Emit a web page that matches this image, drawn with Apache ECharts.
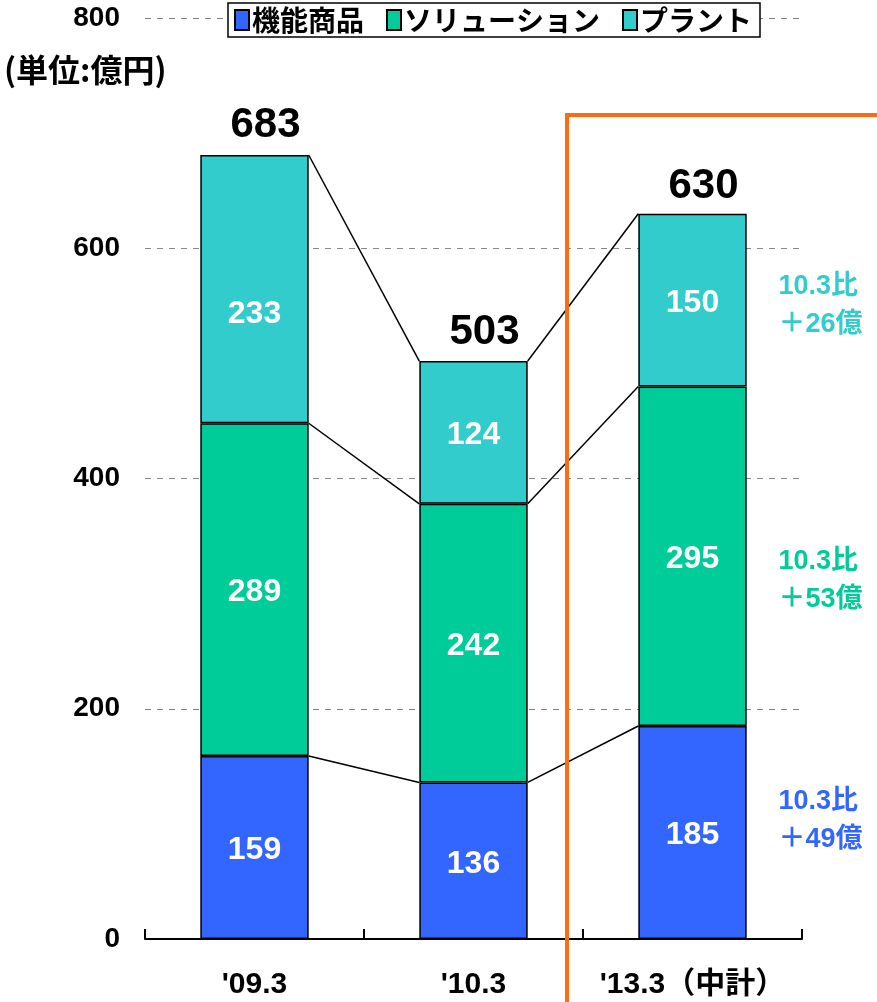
<!DOCTYPE html>
<html>
<head>
<meta charset="utf-8">
<script src="https://cdn.jsdelivr.net/npm/echarts@6/dist/echarts.min.js"></script>
<style>
  html, body { margin: 0; padding: 0; background: #fff; }
  #chart { width: 877px; height: 1002px; }
</style>
</head>
<body>
<div id="chart"></div>
<script>
// 年度
var categories = ["'09.3", "'10.3", "'13.3（中計）"];
// 事業別（億円）
var kinou = [159, 136, 185];
var solution = [289, 242, 295];
var plant = [233, 124, 150];
var totals = [683, 503, 630];
var yTicks = [0, 200, 400, 600, 800];
// 右側の注記 [カテゴリ, 高さ, 文字]
var notes = [
  [2, 550, '10.3比\n＋26億'],
  [2, 311, '10.3比\n＋53億'],
  [2, 103, '10.3比\n＋49億']
];

var colors = ['#3366FF', '#00CC99', '#33CCCC'];
var numFont = '"Liberation Sans", "Noto Sans CJK JP", sans-serif';
var jpFont = '"Noto Sans CJK JP", sans-serif';

// 棒の境界をつなぐ線のデータ [i, 左の値, 右の値]
var connectors = [];
for (var i = 0; i < categories.length - 1; i++) {
  var a1 = kinou[i], b1 = kinou[i + 1];
  var a2 = a1 + solution[i], b2 = b1 + solution[i + 1];
  var a3 = a2 + plant[i], b3 = b2 + plant[i + 1];
  connectors.push([i, a1, b1], [i, a2, b2], [i, a3, b3]);
}
var barRatio = 0.495;

var chart = echarts.init(document.getElementById('chart'));

function barLabel() {
  return {
    show: true,
    position: 'inside',
    offset: [0, 3],
    color: '#fff',
    fontSize: 32,
    fontWeight: 'bold',
    fontFamily: numFont
  };
}

// '09.3 のプラントのラベルだけ少し下にある
var plantData = plant.map(function (v, k) {
  return k === 0 ? { value: v, label: { offset: [0, 25] } } : v;
});

var option = {
  animation: false,
  color: colors,
  grid: { left: 145, right: 75, top: 18, bottom: 63 },
  legend: {
    data: ['機能商品', 'ソリューション', 'プラント'],
    left: 228,
    top: 3,
    icon: 'rect',
    itemWidth: 14,
    itemHeight: 20,
    itemGap: 22,
    padding: [3, 8, 3, 6],
    backgroundColor: '#fff',
    borderColor: '#000',
    borderWidth: 1.5,
    textStyle: { fontSize: 28, fontWeight: 'bold', color: '#000', fontFamily: jpFont, padding: [0, 0, 0, -2] }
  },
  xAxis: {
    type: 'category',
    data: categories,
    axisLine: { lineStyle: { color: '#000', width: 2 } },
    axisTick: { show: true, inside: true, length: 10, lineStyle: { color: '#000', width: 2 } },
    axisLabel: { interval: 0, color: '#000', fontSize: 30, fontWeight: 'bold', fontFamily: numFont, margin: 31 }
  },
  yAxis: {
    type: 'value',
    min: yTicks[0],
    max: yTicks[yTicks.length - 1],
    interval: 200,
    axisLine: { show: false },
    axisTick: { show: false },
    axisLabel: { color: '#000', fontSize: 28, fontWeight: 'bold', fontFamily: numFont, margin: 25 },
    splitLine: { lineStyle: { color: '#888', type: [6, 6], width: 1 } }
  },
  series: [
    {
      name: '機能商品', type: 'bar', stack: 'total', data: kinou, barWidth: (barRatio * 100) + '%',
      itemStyle: { color: colors[0], borderColor: '#000', borderWidth: 1.5 },
      label: barLabel()
    },
    {
      name: 'ソリューション', type: 'bar', stack: 'total', data: solution,
      itemStyle: { color: colors[1], borderColor: '#000', borderWidth: 1.5 },
      label: barLabel()
    },
    {
      name: 'プラント', type: 'bar', stack: 'total', data: plantData,
      itemStyle: { color: colors[2], borderColor: '#000', borderWidth: 1.5 },
      label: barLabel()
    },
    {
      // 合計
      type: 'scatter', data: totals, symbolSize: 1,
      itemStyle: { color: 'rgba(0,0,0,0)', opacity: 1 },
      label: {
        show: true, position: 'top', distance: 6, offset: [11, 0], color: '#000', opacity: 1,
        fontSize: 42, fontWeight: 'bold', fontFamily: numFont
      },
      z: 5
    },
    {
      // 境界をつなぐ線
      type: 'custom',
      data: connectors,
      encode: { x: 0, y: [1, 2] },
      renderItem: function (params, api) {
        var idx = api.value(0);
        var p1 = api.coord([idx, api.value(1)]);
        var p2 = api.coord([idx + 1, api.value(2)]);
        var bw = api.size([1, 0])[0] * barRatio;
        return {
          type: 'line',
          shape: { x1: p1[0] + bw / 2, y1: p1[1], x2: p2[0] - bw / 2, y2: p2[1] },
          style: { stroke: '#000', lineWidth: 1.5 }
        };
      },
      z: 4
    },
    {
      // 注記
      type: 'scatter',
      data: notes.map(function (n, k) {
        return {
          value: [n[0], n[1]],
          label: { formatter: n[2], color: colors[2 - k] }
        };
      }),
      symbolSize: 1,
      itemStyle: { color: 'rgba(0,0,0,0)', opacity: 1 },
      label: {
        show: true, position: 'inside', align: 'left', offset: [86, 0], opacity: 1,
        fontSize: 27, fontWeight: 'bold', lineHeight: 38, fontFamily: numFont
      }
    }
  ],
  graphic: [
    {
      type: 'polyline',
      shape: { points: [[567, 1002], [567, 115], [877, 115]] },
      style: { stroke: '#FF6A13', lineWidth: 4, fill: null },
      z: 100
    },
    {
      type: 'text', left: 4, top: 54,
      style: { text: '(単位:億円)', fill: '#000', font: 'bold 32px "Noto Sans CJK JP"' }
    }
  ]
};

chart.setOption(option);
</script>
</body>
</html>
